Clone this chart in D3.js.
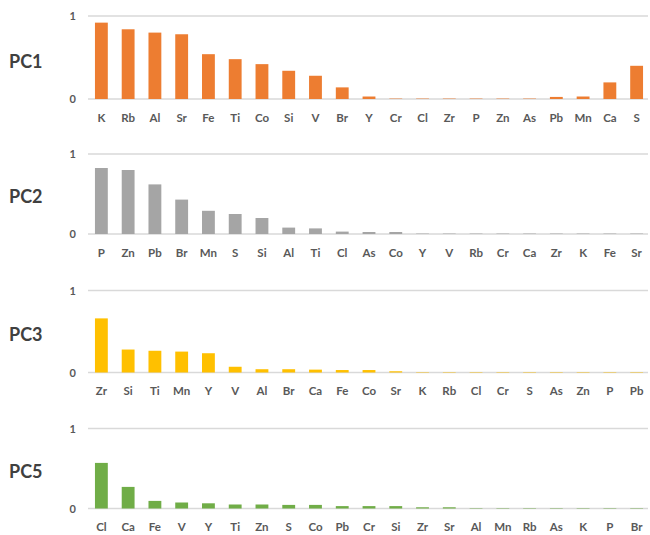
<!DOCTYPE html>
<html>
<head>
<meta charset="utf-8">
<script src="https://cdn.jsdelivr.net/npm/d3@7"></script>
<style>
  html, body { margin: 0; padding: 0; background: #fff; }
  svg { display: block; }
  text { font-family: Lato, "Open Sans", sans-serif; }
</style>
</head>
<body>
<svg id="chart" width="650" height="535"></svg>
<script>
// Loadings of each element on the principal components, sorted by size
const pc1Labels = ["K","Rb","Al","Sr","Fe","Ti","Co","Si","V","Br","Y","Cr","Cl","Zr","P","Zn","As","Pb","Mn","Ca","S"];
const pc1Values = [0.92,0.84,0.80,0.78,0.54,0.48,0.42,0.34,0.28,0.14,0.03,0.005,0.005,0.005,0.005,0.005,0.005,0.025,0.03,0.20,0.40];

const pc2Labels = ["P","Zn","Pb","Br","Mn","S","Si","Al","Ti","Cl","As","Co","Y","V","Rb","Cr","Ca","Zr","K","Fe","Sr"];
const pc2Values = [0.825,0.80,0.62,0.43,0.29,0.25,0.20,0.08,0.07,0.03,0.025,0.025,0.005,0.005,0.005,0.005,0.005,0.005,0.005,0.005,0.005];

const pc3Labels = ["Zr","Si","Ti","Mn","Y","V","Al","Br","Ca","Fe","Co","Sr","K","Rb","Cl","Cr","S","As","Zn","P","Pb"];
const pc3Values = [0.66,0.28,0.265,0.255,0.235,0.07,0.04,0.04,0.035,0.03,0.03,0.015,0.005,0.005,0.005,0.005,0.005,0.005,0.005,0.005,0.005];

const pc5Labels = ["Cl","Ca","Fe","V","Y","Ti","Zn","S","Co","Pb","Cr","Si","Zr","Sr","Al","Mn","Rb","As","K","P","Br"];
const pc5Values = [0.57,0.27,0.095,0.075,0.065,0.05,0.05,0.045,0.045,0.03,0.03,0.03,0.015,0.015,0.005,0.005,0.005,0.005,0.005,0.005,0.005];

const panelNames = ["PC1","PC2","PC3","PC5"];
const panelColors = ["#ED7D31","#A5A5A5","#FFC000","#70AD47"];
const yTicks = [0, 1];

const svg = d3.select("#chart");

// Vertical placement of each panel: y of the "1" gridline and of the baseline
const panelTop = [16, 154, 290.5, 428.5];
const panelBase = [99, 234, 372.5, 508.5];
const plotLeft = 88, plotRight = 648;

const panels = [
  { name: panelNames[0], labels: pc1Labels, values: pc1Values, color: panelColors[0] },
  { name: panelNames[1], labels: pc2Labels, values: pc2Values, color: panelColors[1] },
  { name: panelNames[2], labels: pc3Labels, values: pc3Values, color: panelColors[2] },
  { name: panelNames[3], labels: pc5Labels, values: pc5Values, color: panelColors[3] }
];

panels.forEach((p, i) => {
  const g = svg.append("g");
  const x = d3.scaleBand().domain(p.labels).range([plotLeft, plotRight + 2]).paddingInner(0.52).paddingOuter(0.26);
  const y = d3.scaleLinear().domain([0, 1]).range([panelBase[i], panelTop[i]]);

  // gridlines
  g.selectAll("line.grid").data(yTicks).enter().append("line")
    .attr("x1", plotLeft).attr("x2", plotRight)
    .attr("y1", d => y(d)).attr("y2", d => y(d))
    .attr("stroke", "#d9d9d9").attr("stroke-width", 1.3);

  // value axis labels
  const yAxis = d3.axisLeft(y).tickValues(yTicks).tickSize(0).tickPadding(0).tickFormat(d3.format("d"));
  const ya = g.append("g").attr("transform", "translate(76,0)").call(yAxis);
  ya.select(".domain").remove();
  ya.selectAll("text").attr("font-size", 11).attr("font-weight", "bold").attr("fill", "#595959");

  // bars
  g.selectAll("rect.bar").data(p.values).enter().append("rect")
    .attr("x", (d, j) => x(p.labels[j]))
    .attr("width", x.bandwidth())
    .attr("y", d => y(d))
    .attr("height", d => y(0) - y(d))
    .attr("fill", p.color);

  // category axis
  const xAxis = d3.axisBottom(x).tickSize(0).tickPadding(0);
  const xa = g.append("g").attr("transform", `translate(0,${panelBase[i] + 14})`).call(xAxis);
  xa.select(".domain").remove();
  xa.selectAll("text").attr("font-size", 11.5).attr("font-weight", "bold").attr("fill", "#595959").attr("dy", "0.32em").attr("y", 5);

  // panel title
  g.append("text")
    .attr("x", 9).attr("y", (panelTop[i] + panelBase[i]) / 2 + 6 + (i === 0 ? 4 : 3))
    .attr("font-size", 18).attr("font-weight", "bold").attr("fill", "#404040")
    .text(p.name);
});
</script>
</body>
</html>
